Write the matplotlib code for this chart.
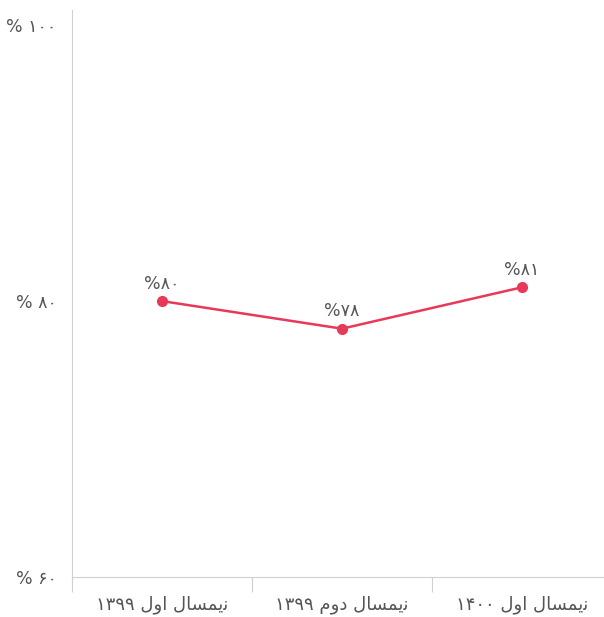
import matplotlib
matplotlib.use('Agg')
import matplotlib.pyplot as plt

# Persian text in visual order with presentation forms (matplotlib has no shaping)
nimsal = '\uFEDD\uFE8E\uFEB4\uFEE4\uFBFE\uFEE7'   # نیمسال
aval = '\uFEDD\uFEED\uFE8D'                        # اول
dovom = '\uFEE1\uFEED\uFEA9'                       # دوم

categories = ['۱۳۹۹ ' + aval + ' ' + nimsal,
              '۱۳۹۹ ' + dovom + ' ' + nimsal,
              '۱۴۰۰ ' + aval + ' ' + nimsal]
values = [80, 78, 81]
point_labels = ['%۸۰', '%۷۸', '%۸۱']
y_ticks = [60, 80, 100]
y_tick_labels = ['% ۶۰', '% ۸۰', '% ۱۰۰']

plt.rcParams['font.family'] = ['DejaVu Sans']
text_color = '#555555'
line_color = '#e8395a'
axis_color = '#d0d0d0'

fig = plt.figure(figsize=(6.04, 6.17), dpi=100)
ax = fig.add_axes([72/604, 1 - 577/617, (612 - 72)/604, (577 - 10)/617])

x = list(range(len(values)))
ax.plot(x, values, '-o', color=line_color, lw=1.8, ms=7)
for xi, v, lab in zip(x, values, point_labels):
    ax.annotate(lab, (xi, v), xytext=(0, 6), textcoords='offset points',
                ha='center', va='bottom', fontsize=12.5, color=text_color)

ax.set_xlim(-0.5, 2.5)
ax.set_ylim(60, 101.1)
ax.set_yticks(y_ticks)
ax.set_yticklabels(y_tick_labels, fontsize=12.5, color=text_color)
ax.tick_params(axis='y', length=0, pad=11)

ax.set_xticks([-0.5, 0.5, 1.5])
ax.set_xticklabels([])
ax.set_xticks(x, minor=True)
ax.set_xticklabels(categories, minor=True, fontsize=13, color=text_color)
ax.tick_params(axis='x', which='major', length=11, color=axis_color, width=0.8)
ax.tick_params(axis='x', which='minor', length=0, pad=13)

for s in ['top', 'right']:
    ax.spines[s].set_visible(False)
ax.spines['left'].set_color(axis_color)
ax.spines['bottom'].set_color(axis_color)
ax.spines['left'].set_linewidth(0.8)
ax.spines['bottom'].set_linewidth(0.8)

fig.savefig('out.png', dpi=100)
